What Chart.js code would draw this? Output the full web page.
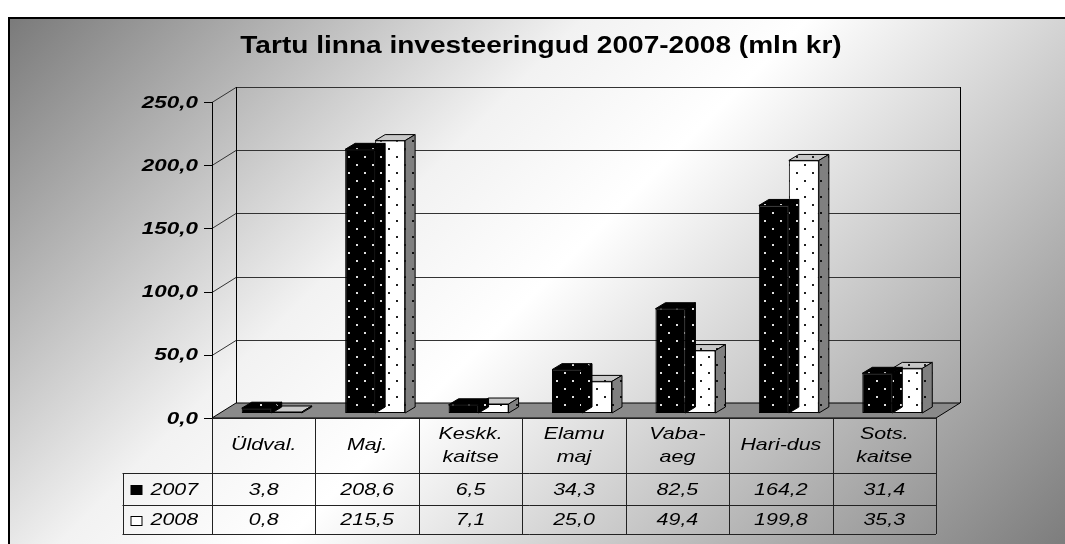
<!DOCTYPE html>
<html><head><meta charset="utf-8">
<script src="https://cdn.jsdelivr.net/npm/chart.js@4/dist/chart.umd.min.js"></script>
<style>html,body{margin:0;padding:0;background:#fff;overflow:hidden}</style>
</head><body>
<canvas id="c" width="1065" height="544"></canvas>
<script>
// ---- data ----
const chartTitle = 'Tartu linna investeeringud 2007-2008 (mln kr)';
const categories = [['Üldval.'], ['Maj.'], ['Keskk.', 'kaitse'], ['Elamu', 'maj'], ['Vaba-', 'aeg'], ['Hari-dus'], ['Sots.', 'kaitse']];
const seriesNames = ['2007', '2008'];
const values2007 = [3.8, 208.6, 6.5, 34.3, 82.5, 164.2, 31.4];
const values2008 = [0.8, 215.5, 7.1, 25.0, 49.4, 199.8, 35.3];
const yTicks = [0, 50, 100, 150, 200, 250];
const yTickLabels = ['0,0', '50,0', '100,0', '150,0', '200,0', '250,0'];

// ---- style / geometry ----
const FONT = '"Liberation Sans", Arial, sans-serif';
const FRONT = { dx: -8, dy: 5 };     // front plane relative to bar plane
const BACK = { dx: 16, dy: -10 };    // back wall relative to bar plane
const BDEPTH = { dx: 10, dy: -6 };   // bar depth
const TABLE_LEFT = 122.5;
const ROW_H = [55, 32, 29];

function makePattern(bg, dot) {
  const c = document.createElement('canvas'); c.width = 16; c.height = 16;
  const g = c.getContext('2d');
  g.fillStyle = bg; g.fillRect(0, 0, 16, 16);
  g.fillStyle = dot; g.fillRect(4, 4, 2, 2); g.fillRect(12, 12, 2, 2);
  return g.createPattern(c, 'repeat');
}
const cv = document.getElementById('c');
const patDark = makePattern('#000000', '#e0e0e0');
const patLight = makePattern('#ffffff', '#202020');
const patLightTop = makePattern('#c8c8c8', '#202020');
const patLightSide = makePattern('#808080', '#101010');
const faceFills = [{ top: patDark, side: patDark }, { top: patLightTop, side: patLightSide }];

function fmt(v) { return v.toFixed(1).replace('.', ','); }

function stretchText(ctx, text, x, y, sx, align) {
  ctx.save(); ctx.translate(x, y); ctx.scale(sx, 1);
  ctx.textAlign = align; ctx.fillText(text, 0, 0); ctx.restore();
}

const scene = {
  id: 'scene',
  beforeDraw(chart) {
    const ctx = chart.ctx, W = chart.width, H = chart.height;
    const ca = chart.chartArea, ys = chart.scales.y;
    ctx.save();
    // background + frame
    ctx.fillStyle = '#fff'; ctx.fillRect(0, 0, W, H);
    const gr = ctx.createLinearGradient(9, 18, 809, 818);
    gr.addColorStop(0, '#7a7a7a');
    gr.addColorStop(0.36, '#f2f2f2');
    gr.addColorStop(0.5, '#ffffff');
    gr.addColorStop(1, '#7a7a7a');
    ctx.fillStyle = gr; ctx.fillRect(9, 18, W, H);
    ctx.strokeStyle = '#000'; ctx.lineWidth = 2;
    ctx.strokeRect(9, 18, W + 20, H + 20);

    // title
    ctx.fillStyle = '#000'; ctx.font = 'bold 23px ' + FONT; ctx.textBaseline = 'middle';
    stretchText(ctx, chartTitle, 541, 47, 1.22, 'center');

    const fL = ca.left + FRONT.dx, fR = ca.right + FRONT.dx;
    const bL = ca.left + BACK.dx, bR = ca.right + BACK.dx;
    const yF = v => ys.getPixelForValue(v) + FRONT.dy;
    const yB = v => ys.getPixelForValue(v) + BACK.dy;
    const vmax = yTicks[yTicks.length - 1];

    ctx.lineWidth = 1;
    // back-wall gridlines and left-wall diagonals
    ctx.strokeStyle = '#333';
    yTicks.forEach(v => {
      if (v === 0) return;
      ctx.beginPath();
      ctx.moveTo(fL, Math.round(yF(v)) + 0.5);
      ctx.lineTo(bL, Math.round(yB(v)) + 0.5);
      ctx.lineTo(bR, Math.round(yB(v)) + 0.5);
      ctx.stroke();
    });
    // wall outlines
    ctx.strokeStyle = '#000';
    ctx.beginPath();
    ctx.moveTo(Math.round(bL) + 0.5, yB(0)); ctx.lineTo(Math.round(bL) + 0.5, yB(vmax));
    ctx.moveTo(Math.round(bR) + 0.5, yB(0)); ctx.lineTo(Math.round(bR) + 0.5, yB(vmax));
    ctx.stroke();
    // floor
    ctx.beginPath();
    ctx.moveTo(fL, yF(0)); ctx.lineTo(fR, yF(0)); ctx.lineTo(bR, yB(0)); ctx.lineTo(bL, yB(0)); ctx.closePath();
    ctx.fillStyle = '#8a8a8a'; ctx.fill(); ctx.strokeStyle = '#000'; ctx.stroke();
    // front axis
    ctx.beginPath();
    ctx.moveTo(Math.round(fL) + 0.5, yF(vmax)); ctx.lineTo(Math.round(fL) + 0.5, yF(0));
    yTicks.forEach(v => {
      const yy = Math.round(yF(v)) + 0.5;
      ctx.moveTo(fL - 8, yy); ctx.lineTo(fL, yy);
    });
    ctx.stroke();
    // y labels
    ctx.fillStyle = '#000'; ctx.font = 'italic bold 17px ' + FONT; ctx.textBaseline = 'middle';
    yTicks.forEach((v, i) => stretchText(ctx, yTickLabels[i], fL - 14, yF(v) + 1, 1.32, 'right'));

    // data table
    const n = categories.length;
    const cw = (fR - fL) / n;
    const t0 = yF(0), t1 = t0 + ROW_H[0], t2 = t1 + ROW_H[1], t3 = t2 + ROW_H[2];
    ctx.strokeStyle = '#222';
    ctx.beginPath();
    ctx.moveTo(fL, Math.round(t0) + 0.5); ctx.lineTo(fR, Math.round(t0) + 0.5);
    [t1, t2, t3].forEach(t => { ctx.moveTo(TABLE_LEFT, Math.round(t) + 0.5); ctx.lineTo(fR, Math.round(t) + 0.5); });
    ctx.moveTo(Math.round(TABLE_LEFT) + 0.5, t1); ctx.lineTo(Math.round(TABLE_LEFT) + 0.5, t3);
    for (let i = 0; i <= n; i++) {
      const xx = Math.round(fL + i * cw) + 0.5;
      ctx.moveTo(xx, t0); ctx.lineTo(xx, t3);
    }
    ctx.stroke();
    ctx.fillStyle = '#000'; ctx.font = 'italic 17px ' + FONT; ctx.textBaseline = 'middle';
    const series = [values2007, values2008];
    const SX = 1.26;
    for (let i = 0; i < n; i++) {
      const cx = chart.scales.x.getPixelForValue(i) + FRONT.dx;
      const lines = categories[i];
      if (lines.length === 1) stretchText(ctx, lines[0], cx, (t0 + t1) / 2, SX, 'center');
      else { stretchText(ctx, lines[0], cx, t0 + 16, SX, 'center'); stretchText(ctx, lines[1], cx, t0 + 39, SX, 'center'); }
      stretchText(ctx, fmt(series[0][i]), cx, (t1 + t2) / 2 + 1, SX, 'center');
      stretchText(ctx, fmt(series[1][i]), cx, (t2 + t3) / 2 + 1, SX, 'center');
    }
    // legend keys
    const kx = TABLE_LEFT + 8;
    ctx.fillStyle = '#000'; ctx.fillRect(kx, Math.round((t1 + t2) / 2 - 4), 12, 10);
    ctx.fillStyle = '#fff'; ctx.fillRect(kx, Math.round((t2 + t3) / 2 - 4), 12, 10);
    ctx.strokeStyle = '#000'; ctx.strokeRect(kx + 0.5, Math.round((t2 + t3) / 2 - 4) + 0.5, 11, 9);
    ctx.fillStyle = '#000';
    stretchText(ctx, seriesNames[0], kx + 20, (t1 + t2) / 2 + 1, SX, 'left');
    stretchText(ctx, seriesNames[1], kx + 20, (t2 + t3) / 2 + 1, SX, 'left');
    ctx.restore();
  },
  afterDatasetDraw(chart, args) {
    const ctx = chart.ctx, f = faceFills[args.index];
    ctx.save();
    ctx.strokeStyle = '#000'; ctx.lineWidth = 1;
    args.meta.data.forEach(bar => {
      const { x, y, base, width } = bar.getProps(['x', 'y', 'base', 'width'], true);
      const l = x - width / 2, r = x + width / 2;
      ctx.beginPath();
      ctx.moveTo(l, y); ctx.lineTo(l + BDEPTH.dx, y + BDEPTH.dy); ctx.lineTo(r + BDEPTH.dx, y + BDEPTH.dy); ctx.lineTo(r, y); ctx.closePath();
      ctx.fillStyle = f.top; ctx.fill(); ctx.stroke();
      ctx.beginPath();
      ctx.moveTo(r, y); ctx.lineTo(r + BDEPTH.dx, y + BDEPTH.dy); ctx.lineTo(r + BDEPTH.dx, base + BDEPTH.dy); ctx.lineTo(r, base); ctx.closePath();
      ctx.fillStyle = f.side; ctx.fill(); ctx.stroke();
    });
    ctx.restore();
  }
};

new Chart(cv, {
  type: 'bar',
  data: {
    labels: categories,
    datasets: [
      { label: seriesNames[0], data: values2007, backgroundColor: patDark, borderColor: '#000', borderWidth: 1, borderSkipped: false },
      { label: seriesNames[1], data: values2008, backgroundColor: patLight, borderColor: '#000', borderWidth: 1, borderSkipped: false }
    ]
  },
  options: {
    responsive: false, animation: false, devicePixelRatio: 1,
    layout: { padding: { left: 220, right: 121, top: 97, bottom: 131 } },
    datasets: { bar: { categoryPercentage: 0.58, barPercentage: 1 } },
    scales: {
      x: { display: false },
      y: { display: false, min: 0, max: 250, ticks: { stepSize: 50 } }
    },
    plugins: { legend: { display: false }, tooltip: { enabled: false }, title: { display: false } }
  },
  plugins: [scene]
});
</script>
</body></html>
